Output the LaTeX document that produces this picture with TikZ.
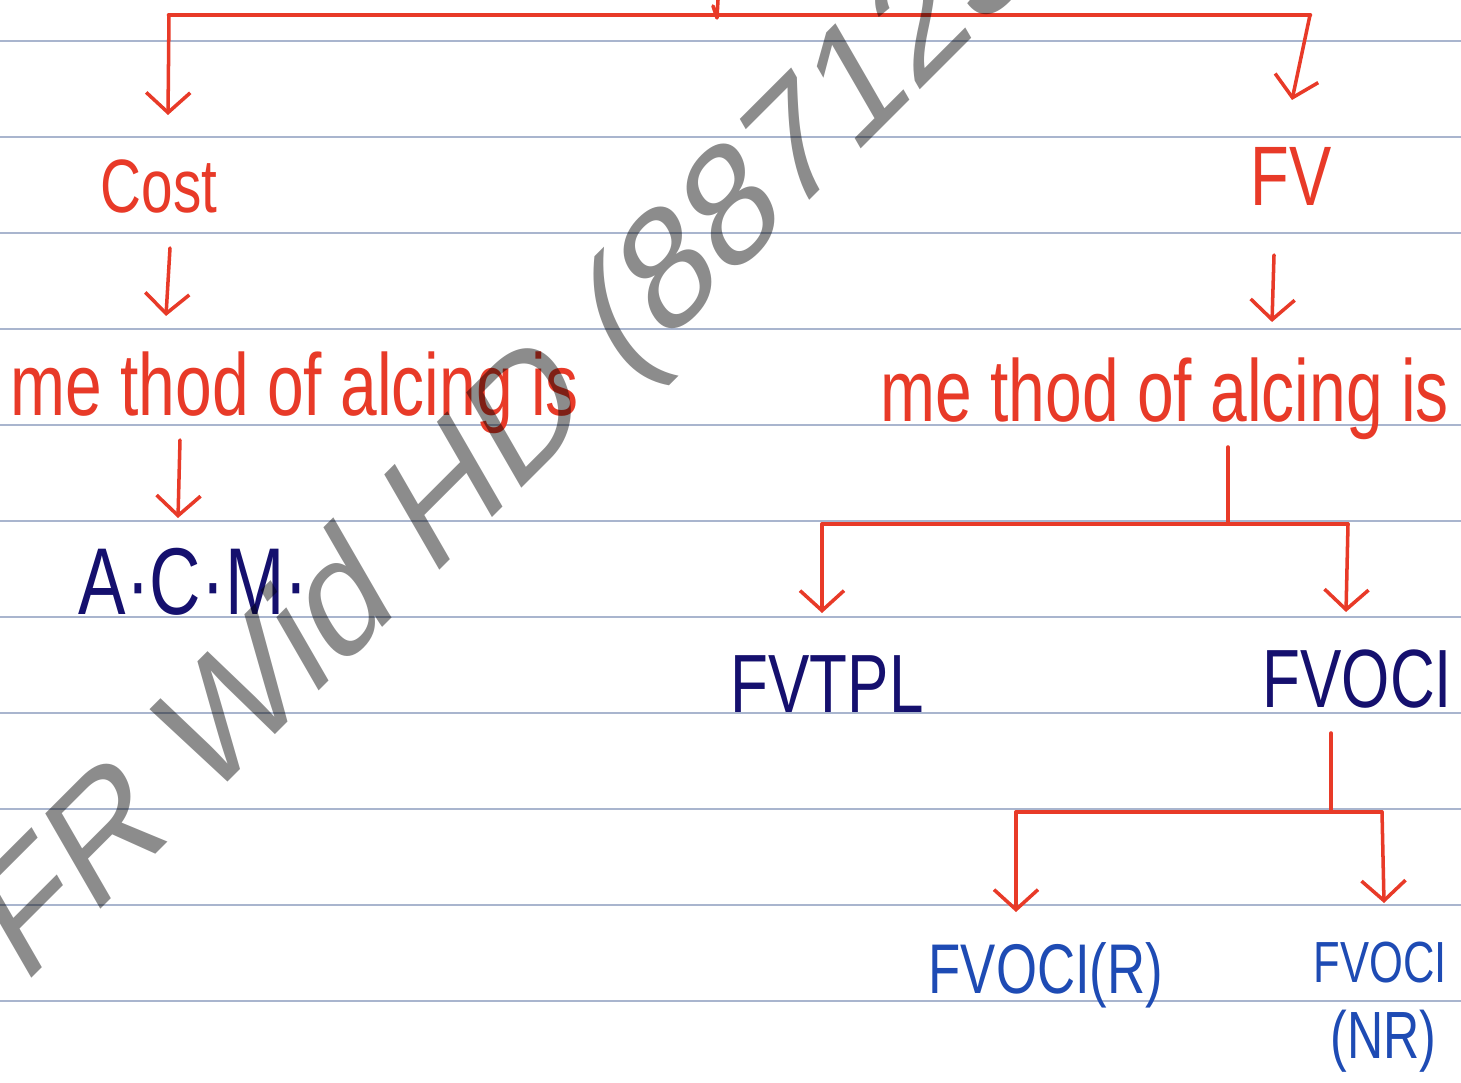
\documentclass[tikz,border=0pt]{standalone}
\usepackage{fontspec}
\setmainfont{Liberation Sans}
\newfontfamily\hand[FakeStretch=0.75]{Liberation Sans}
\usetikzlibrary{arrows.meta}
\definecolor{ink}{HTML}{E83A28}
\definecolor{navy}{HTML}{15106E}
\definecolor{pen}{HTML}{1E4BB4}
\definecolor{rulec}{HTML}{A9B5CE}
\tikzset{
  ruleline/.style={rulec, line width=0.6pt},
  conn/.style={ink, line width=1pt, line cap=round, line join=round},
  arr/.style={conn, -{Straight Barb[length=2mm,width=4.4mm,line width=1pt]}},
  lbl/.style={anchor=base west, inner sep=0pt},
  redtxt/.style={lbl, text=ink},
  navytxt/.style={lbl, text=navy},
  bluetxt/.style={lbl, text=pen},
}
\begin{document}
\begin{tikzpicture}[x=0.01cm, y=-0.01cm]
\useasboundingbox (0,0) rectangle (1461,1083);
\clip (0,0) rectangle (1461,1083);
\fill[white] (0,0) rectangle (1461,1083);
% ruled paper
\foreach \yy in {41,137,233,329,425,521,617,713,809,905,1001}
  \draw[ruleline] (0,\yy) -- (1461,\yy);

% text nodes
\node[redtxt, font=\hand\fontsize{21.5}{26}\selectfont] (cost) at (100,213) {Cost};
\node[redtxt, font=\hand\fontsize{24}{28}\selectfont] (fv) at (1250,206) {FV};
\node[redtxt, font=\hand\fontsize{25}{30}\selectfont] (methL) at (10,416) {me thod of alcing is};
\node[redtxt, font=\hand\fontsize{25}{30}\selectfont] (methR) at (880,422) {me thod of alcing is};
\node[navytxt, font=\hand\fontsize{27}{32}\selectfont] (acm) at (78,615) {A·C·M·};
\node[navytxt, font=\hand\fontsize{23.5}{28}\selectfont] (fvtpl) at (730,712) {FVTPL};
\node[navytxt, font=\hand\fontsize{23.5}{28}\selectfont] (fvoci) at (1262,708) {FVOCI};
\node[bluetxt, font=\hand\fontsize{20}{24}\selectfont] (fvocir) at (928,993) {FVOCI(R)};
\node[bluetxt, font=\hand\fontsize{16.5}{20}\selectfont] (fvocinr) at (1313,982) {FVOCI};
\node[bluetxt, font=\hand\fontsize{19}{22}\selectfont] (nr) at (1330,1058) {(NR)};

% connector points
\coordinate (top) at (718,0);
\coordinate (topm) at (717,18);
\coordinate (topL) at (169,15);
\coordinate (topR) at (1310,15);
\coordinate (costT) at (168,115);
\coordinate (fvT) at (1292,100);
\coordinate (costB) at (170,248);
\coordinate (methLT) at (166,316);
\coordinate (fvB) at (1274,255);
\coordinate (methRT) at (1272,322);
\coordinate (methLB) at (180,440);
\coordinate (acmT) at (178,518);
\coordinate (methRB) at (1228,447);
\coordinate (br2) at (1228,524);
\coordinate (br2L) at (822,524);
\coordinate (br2R) at (1348,524);
\coordinate (fvtplT) at (822,613);
\coordinate (fvociT) at (1346,612);
\coordinate (fvociB) at (1331,733);
\coordinate (br3) at (1331,812);
\coordinate (br3L) at (1016,812);
\coordinate (br3R) at (1382,812);
\coordinate (fvocirT) at (1016,912);
\coordinate (fvocinrT) at (1384,903);

% connectors
\draw[conn] (top) -- (topm) -- ++(-4,-12);
\draw[conn, line width=1.3pt] (topL) -- (topR);
\draw[arr] (topL) -- (costT);
\draw[arr] (topR) -- (fvT);
\draw[arr] (costB) -- (methLT);
\draw[arr] (fvB) -- (methRT);
\draw[arr] (methLB) -- (acmT);
\draw[conn] (methRB) -- (br2);
\draw[conn] (br2L) -- (br2R);
\draw[arr] (br2L) -- (fvtplT);
\draw[arr] (br2R) -- (fvociT);
\draw[conn] (fvociB) -- (br3);
\draw[conn] (br3L) -- (br3R);
\draw[arr] (br3L) -- (fvocirT);
\draw[arr] (br3R) -- (fvocinrT);

% watermark
\begin{scope}[shift={(22,988)}, cm={0.707,0.707,-0.5,0.866,(0,0)}]
  \node[transform shape, anchor=base west, inner sep=0pt, text=black, text opacity=0.45,
        font=\fontsize{45.5}{54}\selectfont] (wm) at (0,0) {FR Wid HD (887123};
\end{scope}
\end{tikzpicture}
\end{document}
